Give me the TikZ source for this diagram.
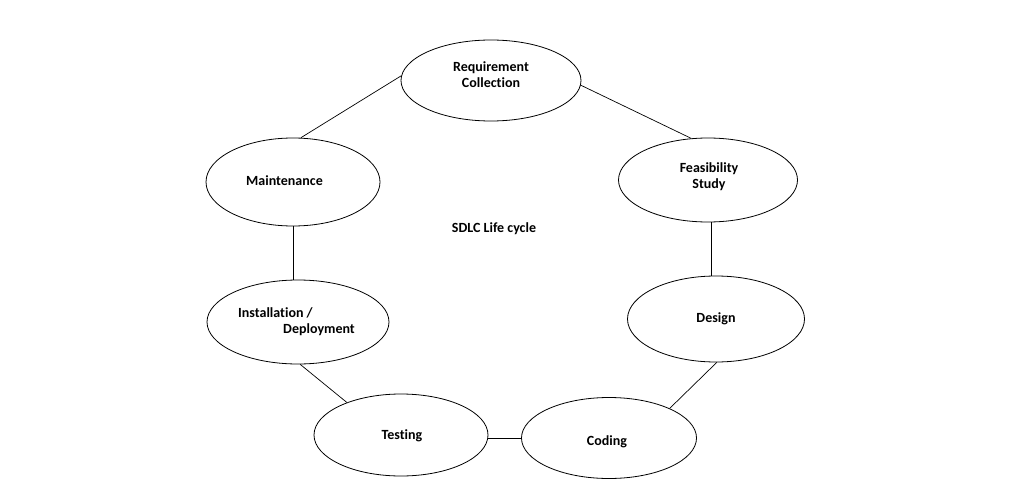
\documentclass[tikz,border=0pt]{standalone}
\usepackage{fontspec}
\setmainfont{Carlito}[Ligatures=NoCommon]
\usetikzlibrary{shapes.geometric}
\begin{document}
\begin{tikzpicture}[x=1pt,y=-1pt,
  phase/.style={draw=black, line width=0.8pt, ellipse, inner sep=0pt},
  lbl/.style={font=\fontsize{14}{16}\selectfont\bfseries, inner sep=0pt, text=black},
  conn/.style={draw=black, line width=0.7pt}]
\useasboundingbox[fill=white] (0,0) rectangle (1024,500);
% ellipses
\node[phase, minimum width=180pt, minimum height=81pt] (req) at (491,80.5) {};
\node[phase, minimum width=179pt, minimum height=84pt] (feas) at (708,180) {};
\node[phase, minimum width=174pt, minimum height=88pt] (maint) at (293,182) {};
\node[phase, minimum width=182pt, minimum height=84pt] (inst) at (298,322) {};
\node[phase, minimum width=177pt, minimum height=86pt] (design) at (716,319) {};
\node[phase, minimum width=174pt, minimum height=82pt] (test) at (401,435) {};
\node[phase, minimum width=175pt, minimum height=81pt] (coding) at (609,438) {};
% labels
\node[lbl, align=center] (treq) at (491,75) {Requirement\\Collection};
\node[lbl, align=center] (tfeas) at (709,177) {Feasibility\\Study};
\node[lbl] (tmaint) at (284.5,181) {Maintenance};
\node[lbl, align=left] (tinst) at (296.5,322) {Installation /\\\hspace{45pt}Deployment};
\node[lbl] (tdesign) at (716,319) {Design};
\node[lbl] (ttest) at (402,436) {Testing};
\node[lbl] (tcoding) at (607,442) {Coding};
\node[lbl] (tsdlc) at (494,229) {SDLC Life cycle};
% connectors
\draw[conn] (req.177) -- (maint.80);
\draw[conn] (req.-3) -- (feas.112);
\draw[conn] (feas.-86) -- (feas.-86 |- design.north);
\draw[conn] (maint.south) -- (maint.south |- inst.north);
\draw[conn] (inst.-87) -- (test.149);
\draw[conn] (design.-89) -- (coding.26);
\draw[conn] (coding.west -| test.east) -- (coding.west);
\end{tikzpicture}
\end{document}
